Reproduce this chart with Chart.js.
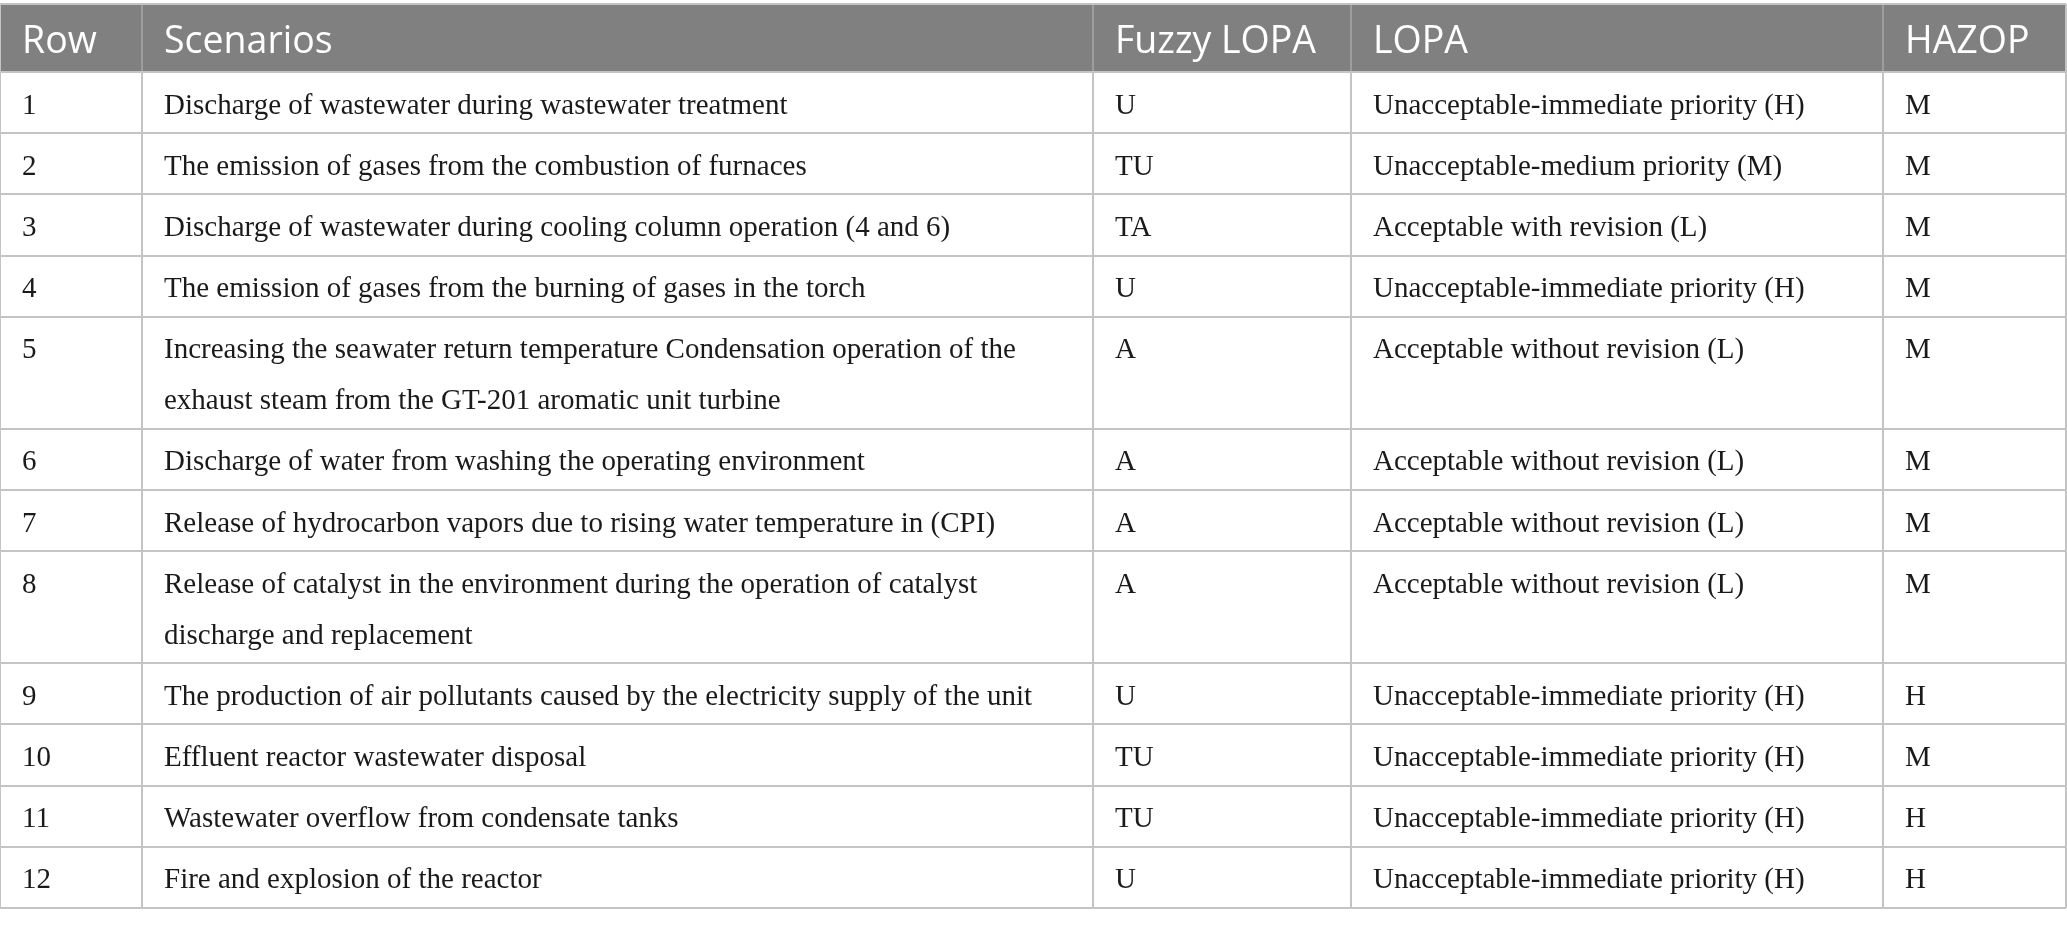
<!DOCTYPE html>
<html>
<head>
<meta charset="utf-8">
<script src="https://cdn.jsdelivr.net/npm/chart.js@4"></script>
<style>
  html, body { margin: 0; padding: 0; background: #ffffff; }
  #wrap { width: 2067px; height: 928px; }
</style>
</head>
<body>
<div id="wrap"><canvas id="tableChart" width="2067" height="928"></canvas></div>
<script>
// Table content
const headers = ["Row", "Scenarios", "Fuzzy LOPA", "LOPA", "HAZOP"];
const rowNumbers = ["1", "2", "3", "4", "5", "6", "7", "8", "9", "10", "11", "12"];
const scenarios = [
  "Discharge of wastewater during wastewater treatment",
  "The emission of gases from the combustion of furnaces",
  "Discharge of wastewater during cooling column operation (4 and 6)",
  "The emission of gases from the burning of gases in the torch",
  "Increasing the seawater return temperature Condensation operation of the\nexhaust steam from the GT-201 aromatic unit turbine",
  "Discharge of water from washing the operating environment",
  "Release of hydrocarbon vapors due to rising water temperature in (CPI)",
  "Release of catalyst in the environment during the operation of catalyst\ndischarge and replacement",
  "The production of air pollutants caused by the electricity supply of the unit",
  "Effluent reactor wastewater disposal",
  "Wastewater overflow from condensate tanks",
  "Fire and explosion of the reactor"
];
const fuzzyLopa = ["U", "TU", "TA", "U", "A", "A", "A", "A", "U", "TU", "TU", "U"];
const lopa = [
  "Unacceptable-immediate priority (H)",
  "Unacceptable-medium priority (M)",
  "Acceptable with revision (L)",
  "Unacceptable-immediate priority (H)",
  "Acceptable without revision (L)",
  "Acceptable without revision (L)",
  "Acceptable without revision (L)",
  "Acceptable without revision (L)",
  "Unacceptable-immediate priority (H)",
  "Unacceptable-immediate priority (H)",
  "Unacceptable-immediate priority (H)",
  "Unacceptable-immediate priority (H)"
];
const hazop = ["M", "M", "M", "M", "M", "M", "M", "M", "H", "M", "H", "H"];

// layout (table pixel units)
const colEdges = [0, 142, 1093, 1351, 1883, 2066];
const HEADER_H = 68;
const ROW_H = 61.2;
const LINE_STEP = 50.8;
const PAD_X = 22;
const HEAD_BASE = 48.7;
const BODY_BASE = 41.5;

const columns = [rowNumbers, scenarios, fuzzyLopa, lopa, hazop];
const lineCounts = scenarios.map((s) => s.split("\n").length);
const rowEdges = [0, HEADER_H];
lineCounts.forEach((n) => {
  rowEdges.push(rowEdges[rowEdges.length - 1] + ROW_H + (n - 1) * LINE_STEP);
});
const tableBottom = rowEdges[rowEdges.length - 1];

const tablePlugin = {
  id: "tablePlugin",
  beforeDatasetsDraw(chart) {
    const ctx = chart.ctx;
    const xs = chart.scales.x;
    const ys = chart.scales.y;
    const left = xs.getPixelForValue(colEdges[0]);
    const right = xs.getPixelForValue(colEdges[colEdges.length - 1]);
    const top = ys.getPixelForValue(0);
    const bottom = ys.getPixelForValue(HEADER_H);
    ctx.save();
    ctx.fillStyle = "#808080";
    ctx.fillRect(left + 1, top + 1, right - left - 2, bottom - top - 2);
    // header dividers
    ctx.strokeStyle = "#9d9d9d";
    ctx.lineWidth = 2;
    colEdges.slice(1, -1).forEach((v) => {
      const px = Math.round(xs.getPixelForValue(v));
      ctx.beginPath();
      ctx.moveTo(px, top + 1);
      ctx.lineTo(px, bottom - 1);
      ctx.stroke();
    });
    ctx.restore();
  },
  afterDatasetsDraw(chart) {
    const ctx = chart.ctx;
    const xs = chart.scales.x;
    const ys = chart.scales.y;
    ctx.save();
    ctx.textBaseline = "alphabetic";
    ctx.textAlign = "left";
    ctx.fillStyle = "#ffffff";
    ctx.font = '37.5px "Open Sans"';
    headers.forEach((h, c) => {
      ctx.fillText(h, xs.getPixelForValue(colEdges[c]) + PAD_X, ys.getPixelForValue(0) + HEAD_BASE);
    });
    ctx.fillStyle = "#1a1a1a";
    ctx.font = '29px "Liberation Serif"';
    rowNumbers.forEach((_, r) => {
      const rowTop = ys.getPixelForValue(rowEdges[r + 1]);
      columns.forEach((col, c) => {
        const x = xs.getPixelForValue(colEdges[c]) + PAD_X;
        col[r].split("\n").forEach((line, i) => {
          ctx.fillText(line, x, rowTop + BODY_BASE + i * LINE_STEP);
        });
      });
    });
    ctx.restore();
  }
};

new Chart(document.getElementById("tableChart"), {
  type: "scatter",
  data: { datasets: [] },
  plugins: [tablePlugin],
  options: {
    responsive: false,
    animation: false,
    devicePixelRatio: 1,
    layout: { padding: { top: 4, bottom: 928 - 4 - tableBottom, left: 0, right: 1 } },
    plugins: { legend: { display: false }, tooltip: { enabled: false } },
    scales: {
      x: {
        type: "linear",
        min: colEdges[0],
        max: colEdges[colEdges.length - 1],
        afterBuildTicks: (s) => { s.ticks = colEdges.map((v) => ({ value: v })); },
        afterFit: (s) => { s.height = 0; },
        ticks: { display: false },
        border: { display: false },
        grid: { color: "#c4c4c4", lineWidth: 2, drawTicks: false }
      },
      y: {
        type: "linear",
        reverse: true,
        min: 0,
        max: tableBottom,
        afterBuildTicks: (s) => { s.ticks = rowEdges.map((v) => ({ value: v })); },
        afterFit: (s) => { s.width = 0; },
        ticks: { display: false },
        border: { display: false },
        grid: { color: "#c4c4c4", lineWidth: 2, drawTicks: false }
      }
    }
  }
});
</script>
</body>
</html>
